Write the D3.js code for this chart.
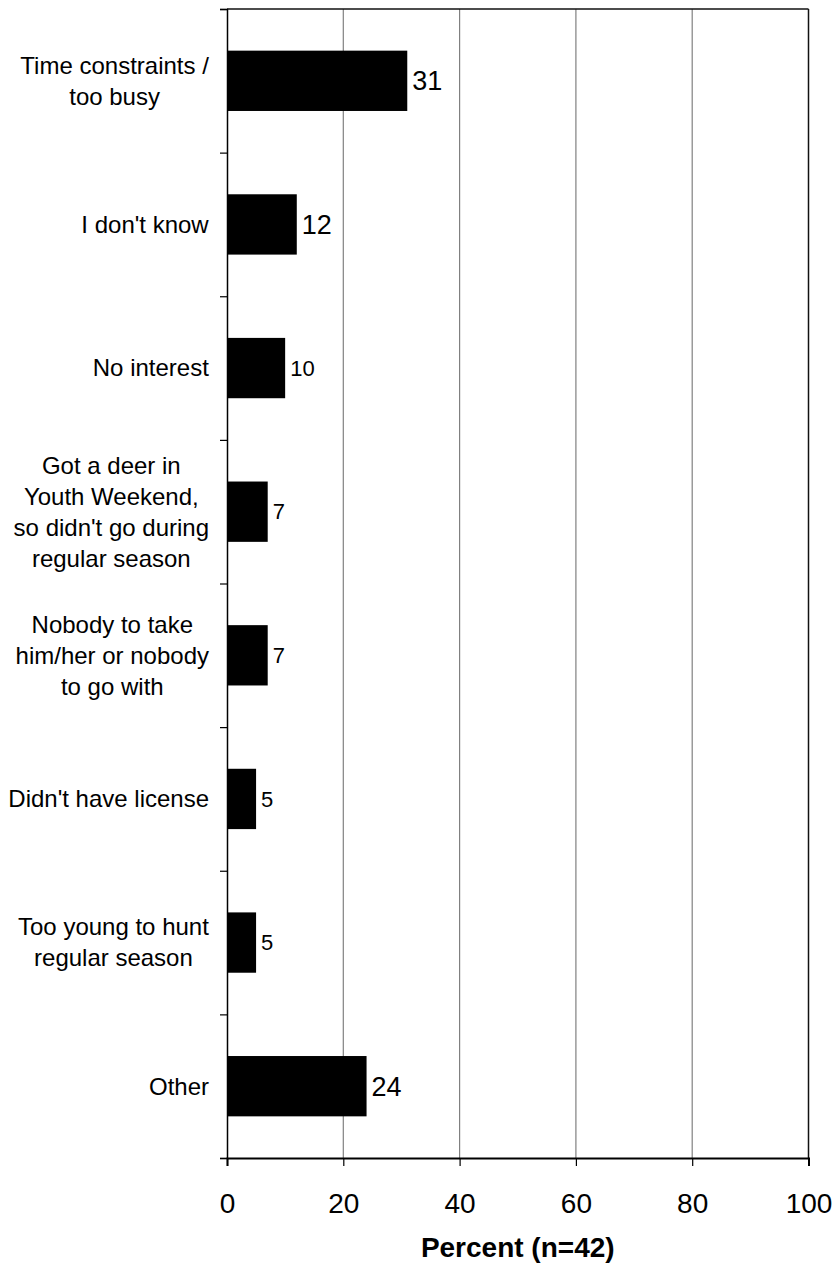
<!DOCTYPE html>
<html><head><meta charset="utf-8">
<script src="https://cdn.jsdelivr.net/npm/d3@7"></script>
<style>body{margin:0;background:#fff}svg{display:block}text{font-family:"Liberation Sans",Arial,sans-serif;fill:#000}</style>
</head><body><svg id="c" width="838" height="1268"></svg>
<script>
const categories = [
  ["Time constraints /","too busy"],
  ["I don't know"],
  ["No interest"],
  ["Got a deer in","Youth Weekend,","so didn't go during","regular season"],
  ["Nobody to take","him/her or nobody","to go with"],
  ["Didn't have license"],
  ["Too young to hunt","regular season"],
  ["Other"]
];
const values = [31, 12, 10, 7, 7, 5, 5, 24];
const labelSizes = [27, 27, 22, 22, 22, 22, 22, 27];
const xTicks = [0, 20, 40, 60, 80, 100];
const axisTitle = "Percent (n=42)";

const svg = d3.select("#c");
const L = 227, R = 808.5, T = 9, B = 1158;
const x = d3.scaleLinear().domain([0, 100]).range([L, R]);
const y = d3.scaleBand().domain(d3.range(categories.length)).range([T, B]).paddingInner(0.58).paddingOuter(0.29);
const yb = d3.scaleBand().domain(d3.range(categories.length)).range([T, B]);

// gridlines
svg.append("g").selectAll("line").data(xTicks.filter(d => d > 0 && d < 100)).join("line")
  .attr("x1", d => x(d)).attr("x2", d => x(d)).attr("y1", T).attr("y2", B)
  .attr("stroke", "#808080").attr("stroke-width", 1.2);
// top & right border
svg.append("line").attr("x1", L).attr("x2", R).attr("y1", T).attr("y2", T).attr("stroke", "#111").attr("stroke-width", 1.5);
svg.append("line").attr("x1", R).attr("x2", R).attr("y1", T).attr("y2", B).attr("stroke", "#111").attr("stroke-width", 1.5);

// bars
svg.append("g").selectAll("rect").data(values).join("rect")
  .attr("x", x(0)).attr("y", (d, i) => y(i)).attr("width", d => x(d) - x(0)).attr("height", y.bandwidth())
  .attr("fill", "#000");

// value labels
svg.append("g").selectAll("text").data(values).join("text")
  .attr("x", d => x(d) + 5).attr("y", (d, i) => y(i) + y.bandwidth() / 2)
  .attr("dy", "0.35em").attr("font-size", (d, i) => labelSizes[i]).text(d => d);

// left axis
const yAxis = d3.axisLeft(d3.scaleLinear().domain([0, categories.length]).range([T, B]))
  .tickValues(d3.range(categories.length + 1)).tickSize(7).tickFormat("");
const ga = svg.append("g").attr("transform", `translate(${L},0)`).call(yAxis);
ga.select(".domain").attr("stroke", "#000").attr("stroke-width", 1.5);
ga.selectAll(".tick line").attr("stroke", "#000").attr("stroke-width", 1.2);

// bottom axis
const xAxis = d3.axisBottom(x).tickValues(xTicks).tickSize(8).tickPadding(27);
const gx = svg.append("g").attr("transform", `translate(0,${B})`).call(xAxis);
gx.select(".domain").attr("stroke", "#000").attr("stroke-width", 2);
gx.selectAll(".tick line").attr("stroke", "#000").attr("stroke-width", 1.2);
gx.selectAll(".tick text").attr("font-size", 28).attr("font-family", '"Liberation Sans",Arial,sans-serif').attr("fill", "#000");

// category labels
const lineH = 31, fs = 24;
const lg = svg.append("g");
categories.forEach((lines, i) => {
  const cy = yb(i) + yb.bandwidth() / 2;
  const t = lg.append("text").attr("font-size", fs).attr("text-anchor", "middle");
  const n = lines.length;
  lines.forEach((ln, k) => {
    t.append("tspan").attr("x", 0).attr("y", cy + (k - (n - 1) / 2) * lineH).attr("dy", "0.35em").text(ln);
  });
  const w = t.node().getBBox().width;
  t.attr("transform", `translate(${209 - w / 2},0)`);
});

// axis title
svg.append("text").attr("x", (L + R) / 2).attr("y", 1257).attr("text-anchor", "middle")
  .attr("font-size", 28).attr("font-weight", "bold").text(axisTitle);
</script></body></html>
